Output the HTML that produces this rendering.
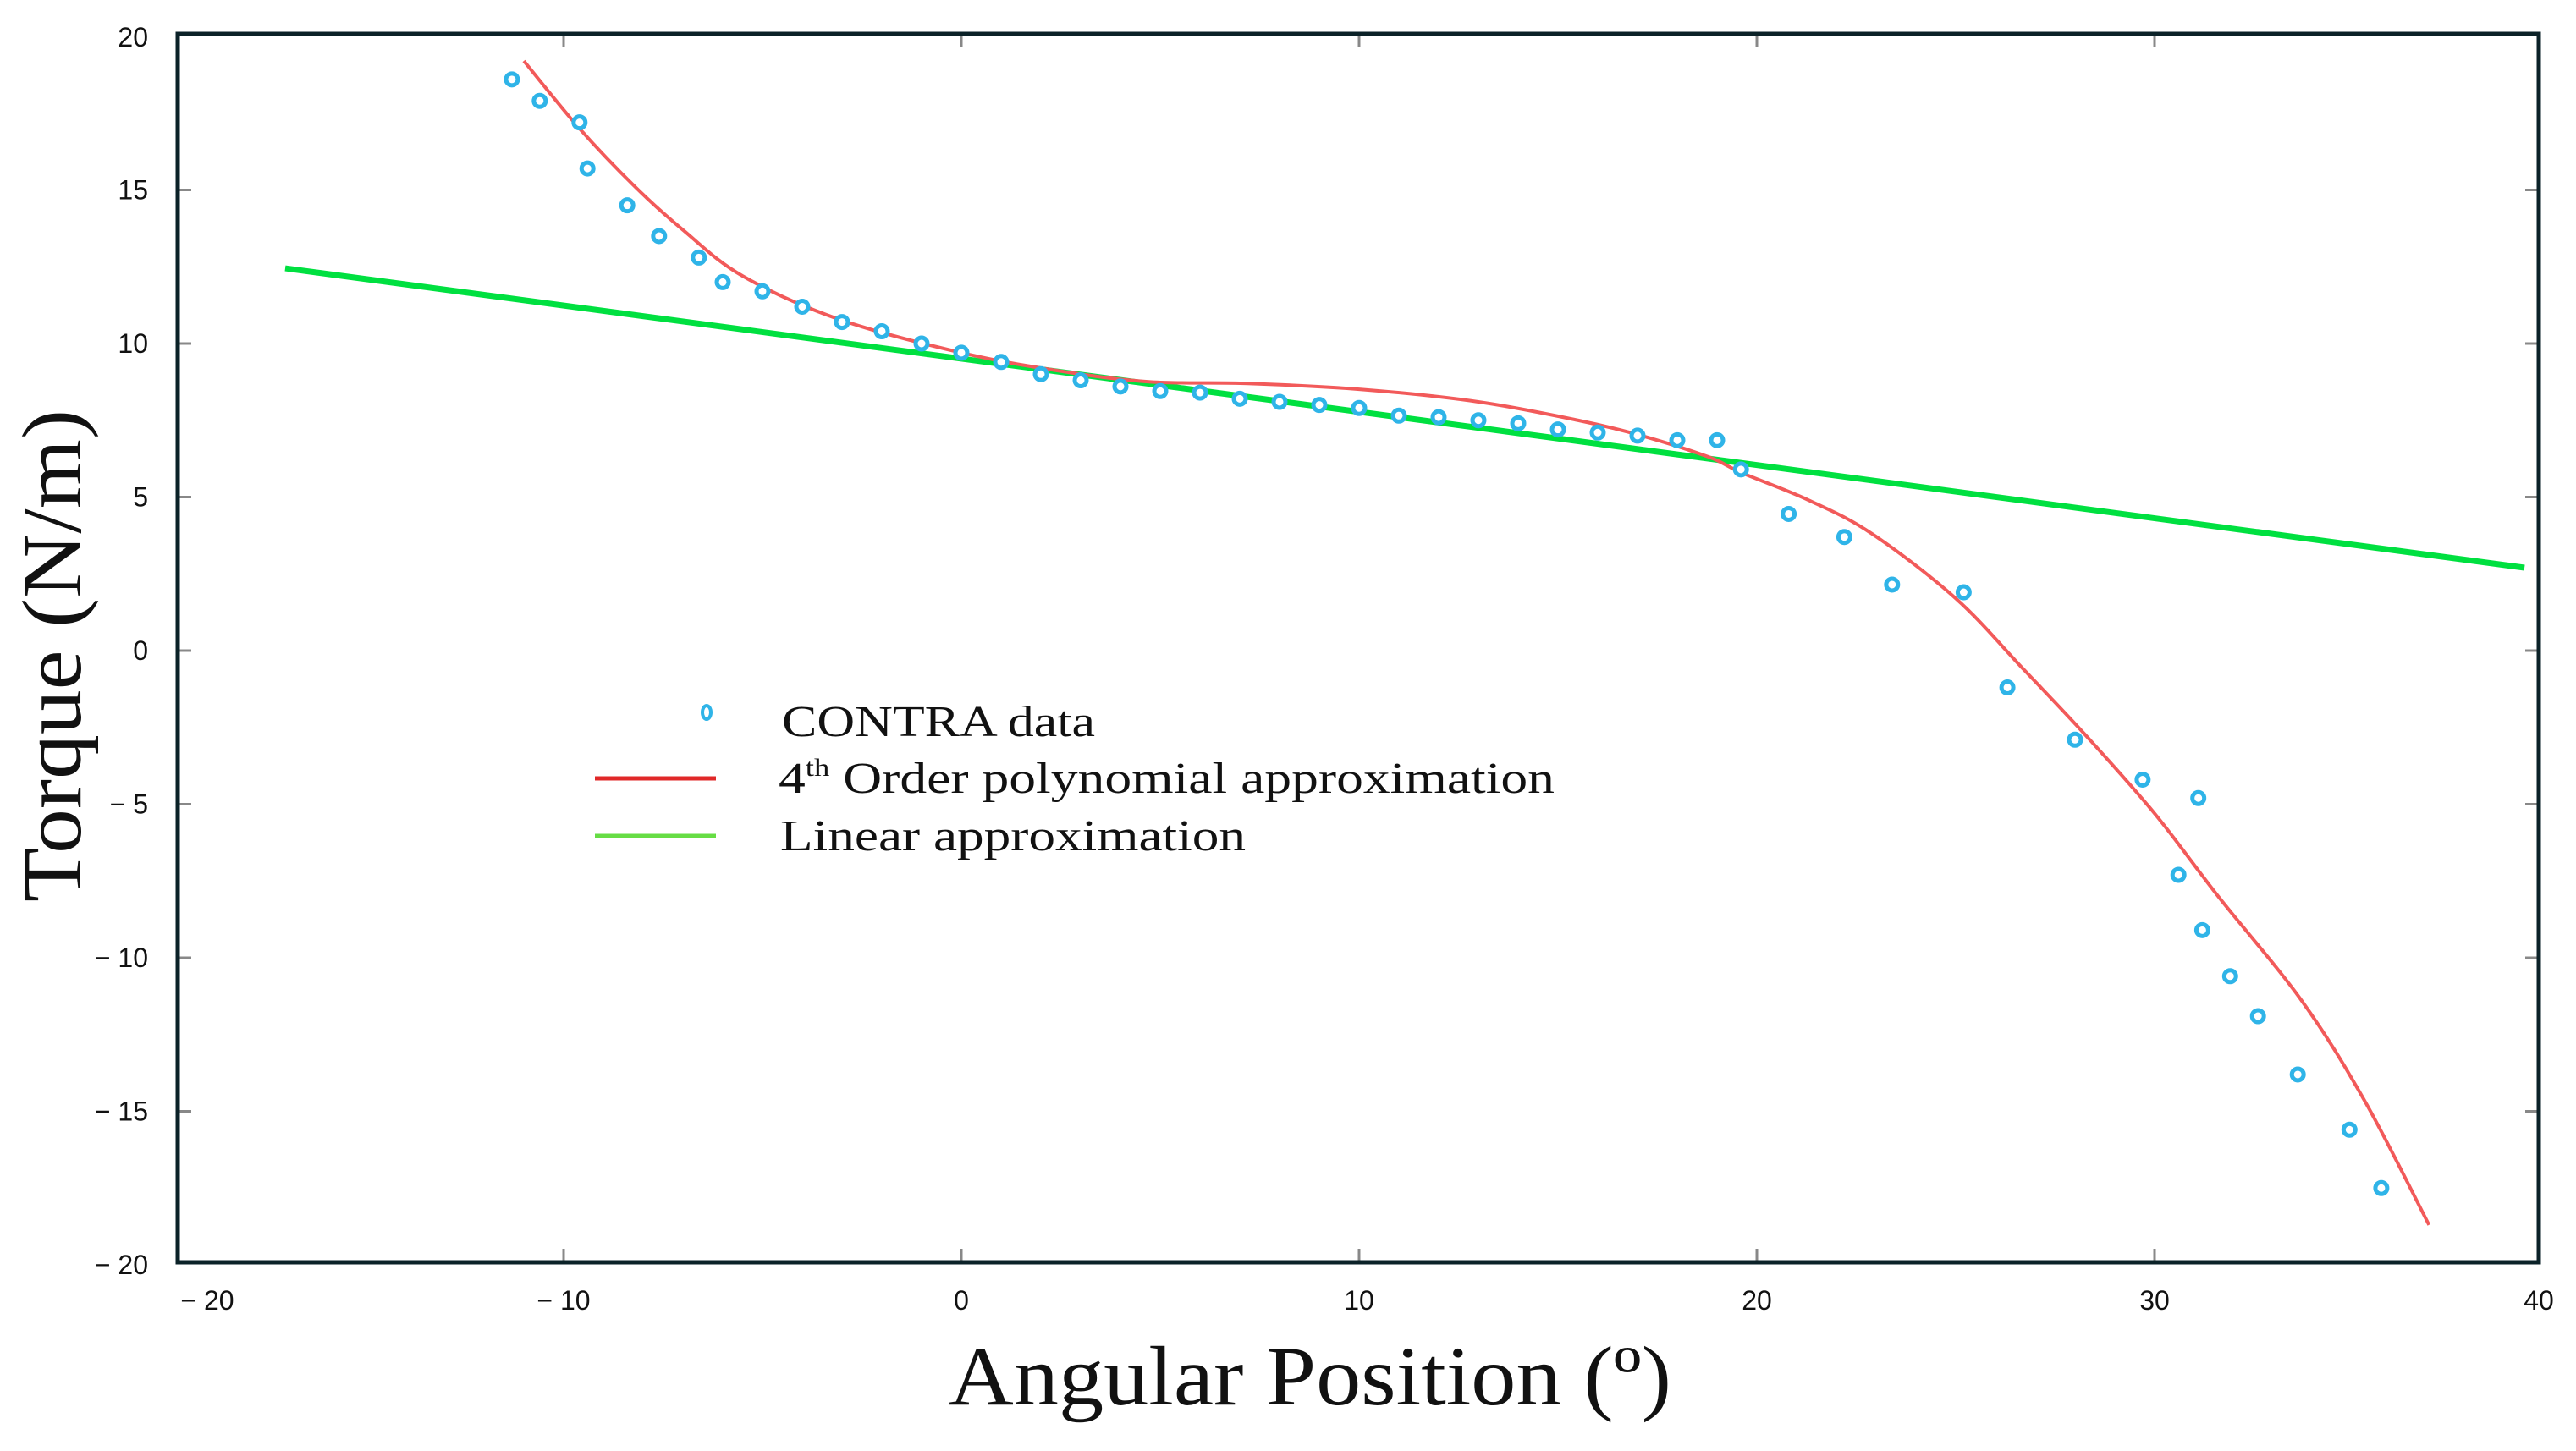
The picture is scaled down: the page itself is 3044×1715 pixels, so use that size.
<!DOCTYPE html>
<html><head><meta charset="utf-8">
<style>
html,body{margin:0;padding:0;background:#fff;}
svg{display:block;}
.tick{font-family:"Liberation Sans",sans-serif;font-size:32px;fill:#111;}
.serif{font-family:"Liberation Serif",serif;fill:#111;}
</style></head>
<body>
<svg id="chart" width="3044" height="1715" viewBox="0 0 3044 1715" xmlns="http://www.w3.org/2000/svg">
<rect x="0" y="0" width="3044" height="1715" fill="#fff"/>
<g id="grid"></g>
<g id="series"></g>
<rect x="210" y="40" width="2790" height="1452" fill="none" stroke="#0b2228" stroke-width="5"/>
<g id="labels"></g>
<text class="serif" x="1548" y="1660" font-size="100" textLength="854" lengthAdjust="spacingAndGlyphs" text-anchor="middle">Angular Position (º)</text>
<text class="serif" transform="translate(95,775) rotate(-90)" font-size="100" textLength="582" lengthAdjust="spacingAndGlyphs" text-anchor="middle">Torque (N/m)</text>
<g>
<ellipse cx="835" cy="842" rx="5" ry="8" fill="none" stroke="#2fb4e8" stroke-width="4"/>
<text class="serif" x="924" y="870" font-size="52" textLength="370" lengthAdjust="spacingAndGlyphs">CONTRA data</text>
<line x1="703" y1="920" x2="846" y2="920" stroke="#e02828" stroke-width="5"/>
<text class="serif" x="920" y="937" font-size="52" textLength="917" lengthAdjust="spacingAndGlyphs">4<tspan font-size="30" dy="-20">th</tspan><tspan dy="20"> Order polynomial approximation</tspan></text>
<line x1="703" y1="988" x2="846" y2="988" stroke="#66dd44" stroke-width="5"/>
<text class="serif" x="922" y="1005" font-size="52" textLength="550" lengthAdjust="spacingAndGlyphs">Linear approximation</text>
</g>
</svg>
<script>
const xTicks = [-20,-10,0,10,20,30,40];
const yTicks = [20,15,10,5,0,-5,-10,-15,-20];
const dataX = [-11.3,-10.6,-9.6,-9.4,-8.4,-7.6,-6.6,-6.0,-5.0,-4.0,-3.0,-2.0,-1.0,0,1,2,3,4,5,6,7,8,9,10,11,12,13,14,15,16,17,18,19,19.6,20.8,22.2,23.4,25.2,26.3,28.0,29.7,31.1,30.6,31.2,31.9,32.6,33.6,34.9,35.7];
const dataY = [18.6,17.9,17.2,15.7,14.5,13.5,12.8,12.0,11.7,11.2,10.7,10.4,10.0,9.7,9.4,9.0,8.8,8.6,8.45,8.4,8.2,8.1,8.0,7.9,7.65,7.6,7.5,7.4,7.2,7.1,7.0,6.85,6.85,5.9,4.45,3.7,2.15,1.9,-1.2,-2.9,-4.2,-4.8,-7.3,-9.1,-10.6,-11.9,-13.8,-15.6,-17.5];
const polyX = [-11,-9.6,-8.2,-7,-5.5,-3.1,0,2.5,4.75,7.2,10.1,13,15.5,17.1,18.8,19.6,21.3,22.9,25,26.7,28.3,30,31.6,33.7,35.3,36.9];
const polyY = [19.2,17.0,15.1,13.7,12.2,10.8,9.7,9.1,8.75,8.7,8.5,8.1,7.5,7.0,6.3,5.8,4.9,3.8,1.7,-0.6,-2.8,-5.3,-8.0,-11.4,-14.7,-18.7];
const linX = [-17.0,39.3];
const linY = [12.45,2.7];

const NS='http://www.w3.org/2000/svg';
const sx = v => 1136 + 47.0*v;
const sy = v => 769 - 36.3*v;
function mk(tag, attrs, parent){const e=document.createElementNS(NS,tag);for(const k in attrs)e.setAttribute(k,attrs[k]);parent.appendChild(e);return e;}
const grid=document.getElementById('grid'), series=document.getElementById('series'), labels=document.getElementById('labels');

xTicks.forEach(t=>{
  const x=sx(t);
  if(x>215 && x<2995){
    const a=mk('line',{x1:x,y1:42,x2:x,y2:56,stroke:'#888','stroke-width':3},grid);
    
    
    const b=mk('line',{x1:x,y1:1476,x2:x,y2:1490,stroke:'#888','stroke-width':3},grid);
    
    
  }
  const tx=mk('text',{x:Math.max(Math.min(x,3000),245),y:1548,'text-anchor':'middle',class:'tick'},labels);
  tx.textContent = t<0 ? '\u2212 '+Math.abs(t) : String(t);
  
  
});
yTicks.forEach(t=>{
  const y=sy(t);
  if(y>45 && y<1487){
    const a=mk('line',{x1:212,y1:y,x2:226,y2:y,stroke:'#888','stroke-width':3},grid);
    
    
    const b=mk('line',{x1:2984,y1:y,x2:2998,y2:y,stroke:'#888','stroke-width':3},grid);
    
    
  }
  const tx=mk('text',{x:175,y:Math.max(y+11,55),'text-anchor':'end',class:'tick'},labels);
  tx.textContent = t<0 ? '\u2212 '+Math.abs(t) : String(t);
  
  
});

const lin=mk('polyline',{points:linX.map((v,i)=>sx(v)+','+sy(linY[i])).join(' '),fill:'none',stroke:'#00e040','stroke-width':7},series);



const P = polyX.map((v,i)=>[sx(v),sy(polyY[i])]);
let d='M'+P[0][0]+','+P[0][1];
for(let i=0;i<P.length-1;i++){
  const p0=P[Math.max(i-1,0)],p1=P[i],p2=P[i+1],p3=P[Math.min(i+2,P.length-1)];
  const c1=[p1[0]+(p2[0]-p0[0])/6,p1[1]+(p2[1]-p0[1])/6];
  const c2=[p2[0]-(p3[0]-p1[0])/6,p2[1]-(p3[1]-p1[1])/6];
  d+=' C'+c1.join(',')+' '+c2.join(',')+' '+p2.join(',');
}
const poly=mk('path',{d:d,fill:'none',stroke:'#f25a5a','stroke-width':4,'stroke-linejoin':'round'},series);



dataX.forEach((v,i)=>{
  const c=mk('circle',{cx:sx(v),cy:sy(dataY[i]),r:7,fill:'#fff',stroke:'#2fb4e8','stroke-width':5},series);
  
  
});
</script>
</body></html>
